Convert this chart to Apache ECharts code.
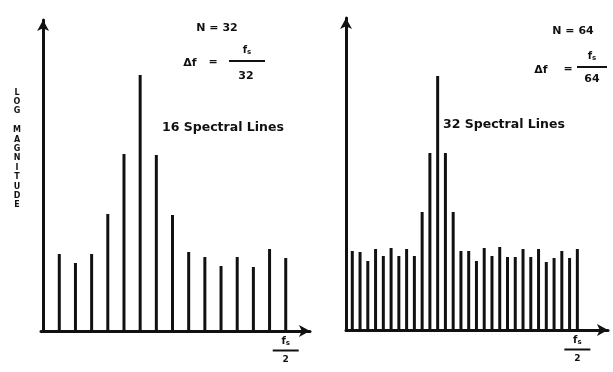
<!DOCTYPE html>
<html>
<head>
<meta charset="utf-8">
<script src="https://cdn.jsdelivr.net/npm/echarts@6/dist/echarts.min.js"></script>
<style>
  html, body { margin: 0; background: #fff; }
  #chart { width: 613px; height: 372px; }
</style>
</head>
<body>
<div id="chart"></div>
<script>
// N = 32 : spectral line index and height (log magnitude, arbitrary units)
const lines32 = [1, 2, 3, 4, 5, 6, 7, 8, 9, 10, 11, 12, 13, 14, 15];
const mag32 = [77, 68, 77, 117, 177, 256, 176, 116, 79, 74, 65, 74, 64, 82, 73];

// N = 64
const lines64 = [1, 2, 3, 4, 5, 6, 7, 8, 9, 10, 11, 12, 13, 14, 15,
  16, 17, 18, 19, 20, 21, 22, 23, 24, 25, 26, 27, 28, 29, 30];
const mag64 = [79, 78, 69, 81, 74, 82, 74, 81, 74, 118, 177, 254, 177, 118, 79,
  79, 69, 82, 74, 83, 73, 73, 81, 73, 81, 68, 72, 79, 72, 81];

// where f_s/2 sits on each axis
const half32 = [15];
const half64 = [30];

const ink = '#111';
const font = 'DejaVu Sans';

function pairs(xs, ys) {
  return xs.map((x, i) => [x, ys[i]]);
}

// f_s / 2 label under the axis
const halfLabel = {
  show: true,
  margin: 5,
  formatter: () => '{f|f}{s|s}\n{bar| }\n{d|2}',
  rich: {
    f: { fontFamily: font, fontWeight: 'bold', fontSize: 10, color: ink, lineHeight: 11 },
    s: { fontFamily: font, fontWeight: 'bold', fontSize: 7, color: ink, verticalAlign: 'bottom', lineHeight: 11 },
    bar: { width: 26, height: 2, lineHeight: 7, backgroundColor: ink },
    d: { fontFamily: font, fontWeight: 'bold', fontSize: 9, color: ink, lineHeight: 11 }
  }
};

function xAxisOf(idx, min, max, custom) {
  return {
    type: 'value',
    gridIndex: idx,
    min: min,
    max: max,
    axisLine: {
      show: true,
      symbol: ['none', 'arrow'],
      symbolSize: [9, 11],
      lineStyle: { color: ink, width: 3 }
    },
    axisTick: { show: false },
    splitLine: { show: false },
    axisLabel: Object.assign({ customValues: custom }, halfLabel)
  };
}

function yAxisOf(idx, max) {
  return {
    type: 'value',
    gridIndex: idx,
    min: 0,
    max: max,
    axisLine: {
      show: true,
      symbol: ['none', 'arrow'],
      symbolSize: [9, 11],
      lineStyle: { color: ink, width: 3 }
    },
    axisTick: { show: false },
    axisLabel: { show: false },
    splitLine: { show: false }
  };
}

const txt = (x, y, text, extra) => ({
  type: 'text',
  x: x,
  y: y,
  style: Object.assign({
    text: text,
    fill: ink,
    font: 'bold 11px "DejaVu Sans"',
    align: 'center',
    verticalAlign: 'middle'
  }, extra || {})
});

const fs = (x, y) => ({
  type: 'text',
  x: x,
  y: y,
  style: {
    text: '{f|f}{s|s}',
    align: 'center',
    verticalAlign: 'middle',
    rich: {
      f: { fontFamily: font, fontWeight: 'bold', fontSize: 10, fill: ink, lineHeight: 11 },
      s: { fontFamily: font, fontWeight: 'bold', fontSize: 7, fill: ink, verticalAlign: 'bottom', lineHeight: 11 }
    }
  }
});

const rule = (x1, x2, y) => ({
  type: 'rect',
  shape: { x: x1, y: y - 1, width: x2 - x1, height: 2 },
  style: { fill: ink }
});

const chart = echarts.init(document.getElementById('chart'));

const option = {
  backgroundColor: '#fff',
  animation: false,
  grid: [
    { left: 41, right: 303, top: 20, bottom: 41 },
    { left: 346, right: 5, top: 18, bottom: 42 }
  ],
  xAxis: [
    xAxisOf(0, -0.13, 16.5, half32),
    xAxisOf(1, 0.19, 33.95, half64)
  ],
  yAxis: [
    yAxisOf(0, 311),
    yAxisOf(1, 312)
  ],
  series: [
    {
      type: 'bar',
      xAxisIndex: 0,
      yAxisIndex: 0,
      barWidth: 3,
      itemStyle: { color: ink },
      data: pairs(lines32, mag32)
    },
    {
      type: 'bar',
      xAxisIndex: 1,
      yAxisIndex: 1,
      barWidth: 3,
      itemStyle: { color: ink },
      data: pairs(lines64, mag64)
    }
  ],
  graphic: [
    // y axis title, one letter per line
    txt(17, 149, 'L\nO\nG\n\nM\nA\nG\nN\nI\nT\nU\nD\nE', {
      font: 'bold 8px "DejaVu Sans"',
      lineHeight: 9.4
    }),

    // left panel
    txt(217, 28, 'N = 32'),
    txt(190, 63, 'Δf'),
    txt(213, 62, '='),
    fs(247, 50),
    rule(229, 265, 61),
    txt(246, 76, '32'),
    txt(162, 128, '16 Spectral Lines', { align: 'left', font: 'bold 12.5px "DejaVu Sans"' }),

    // right panel
    txt(573, 31, 'N = 64'),
    txt(541, 70, 'Δf'),
    txt(568, 69, '='),
    fs(592, 56),
    rule(577, 607, 67),
    txt(592, 79, '64'),
    txt(443, 125, '32 Spectral Lines', { align: 'left', font: 'bold 12.5px "DejaVu Sans"' })
  ]
};

chart.setOption(option);
</script>
</body>
</html>
